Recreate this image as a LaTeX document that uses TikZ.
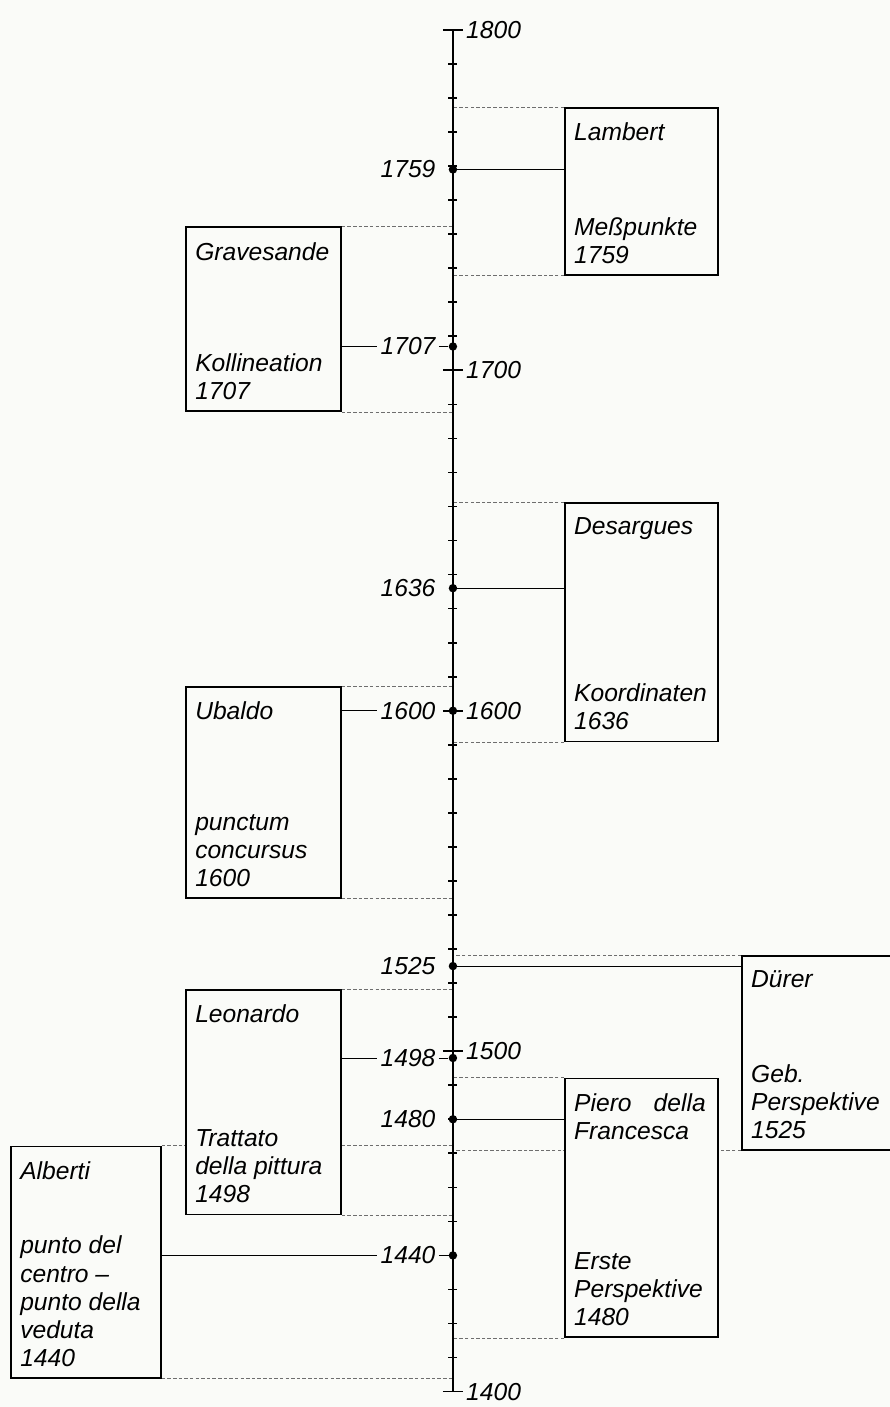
\documentclass[tikz,border=0pt]{standalone}
\usepackage{fontspec}
\setmainfont{Liberation Sans}
\usetikzlibrary{positioning,fit,backgrounds}
\definecolor{paper}{RGB}{250,251,248}
\definecolor{guidegray}{RGB}{110,110,110}

\begin{document}
\begin{tikzpicture}[
  x=0.025cm, y=0.0851cm,
  font=\fontsize{17.5}{20}\selectfont\itshape,
  timeline/.style={line width=2pt},
  tickmark/.style={line width=1.2pt},
  lifebox/.style={draw, line width=1.2pt, fill=paper, inner sep=0pt},
  boxtext/.style={inner sep=0pt, align=left},
  yearlabel/.style={inner sep=0pt, outer sep=2.5pt, anchor=east},
  scalelabel/.style={inner sep=0pt, anchor=west},
  link/.style={line width=0.7pt},
  guide/.style={line width=0.5pt, guidegray, dash pattern=on 2.5pt off 1.5pt},
  event/.style={circle, fill, inner sep=0pt, minimum size=6pt}
]
  % page
  \path[use as bounding box] (0,1395.5) rectangle (890,1808.8);
  \clip (0,1395.5) rectangle (890,1808.8);
  \begin{scope}[on background layer]
    \fill[paper] (0,1395.5) rectangle (890,1808.8);
  \end{scope}

  % time axis
  \coordinate (top) at (453,1800);
  \coordinate (bottom) at (453,1400);
  \draw[timeline] (bottom) -- (top);
  \foreach \yy in {1410,1420,...,1790}
    \draw[tickmark] (448.5,\yy) -- (457.5,\yy);
  \foreach \yy in {1400,1500,...,1800} {
    \draw[tickmark] (443,\yy) -- (463,\yy);
    \node[scalelabel] (s\yy) at (466,\yy) {\yy};
  }

  % life spans (boxes)
  \node[lifebox, fit={(565,1777) (718,1728)}] (lambert) {};
  \node[lifebox, fit={(186,1742) (341,1688)}] (grav) {};
  \node[lifebox, fit={(565,1661) (718,1591)}] (desarg) {};
  \node[lifebox, fit={(186,1607) (341,1545)}] (ubaldo) {};
  \node[lifebox, fit={(742,1528) (905,1471)}] (duerer) {};
  \node[lifebox, fit={(186,1518) (341,1452)}] (leonardo) {};
  \node[lifebox, fit={(565,1492) (718,1416)}] (piero) {};
  \node[lifebox, fit={(11,1472) (161,1404)}] (alberti) {};

  % names and works
  \node[boxtext, below right=11pt and 7pt of lambert.north west] (lambertname) {Lambert};
  \node[boxtext, above right=8.5pt and 7pt of lambert.south west] (lambertwork) {Meßpunkte\\1759};
  \node[boxtext, below right=11pt and 7pt of grav.north west] (gravname) {Gravesande};
  \node[boxtext, above right=8.5pt and 7pt of grav.south west] (gravwork) {Kollineation\\1707};
  \node[boxtext, below right=11pt and 7pt of desarg.north west] (desargname) {Desargues};
  \node[boxtext, above right=8.5pt and 7pt of desarg.south west] (desargwork) {Koordinaten\\1636};
  \node[boxtext, below right=11pt and 7pt of ubaldo.north west] (ubaldoname) {Ubaldo};
  \node[boxtext, above right=8.5pt and 7pt of ubaldo.south west] (ubaldowork) {punctum\\concursus\\1600};
  \node[boxtext, below right=11pt and 7pt of duerer.north west] (duerername) {Dürer};
  \node[boxtext, above right=8.5pt and 7pt of duerer.south west] (duererwork) {Geb.\\Perspektive\\1525};
  \node[boxtext, below right=11pt and 7pt of leonardo.north west] (leonardoname) {Leonardo};
  \node[boxtext, above right=8.5pt and 7pt of leonardo.south west] (leonardowork) {Trattato\\della pittura\\1498};
  \node[boxtext, below right=11pt and 7pt of piero.north west] (pieroname) {Piero\hspace{0.9em}della\\Francesca};
  \node[boxtext, above right=8.5pt and 7pt of piero.south west] (pierowork) {Erste\\Perspektive\\1480};
  \node[boxtext, below right=11pt and 7pt of alberti.north west] (albertiname) {Alberti};
  \node[boxtext, above right=8.5pt and 7pt of alberti.south west] (albertiwork) {punto del\\centro –\\punto della\\veduta\\1440};

  % events on the axis
  \foreach \yy in {1759,1707,1636,1600,1525,1498,1480,1440} {
    \node[event] (d\yy) at (453,\yy) {};
    \node[yearlabel] (l\yy) at (439,\yy) {\yy};
  }

  % links to the right
  \draw[link] (d1759) -- (d1759 -| lambert.west);
  \draw[link] (d1636) -- (d1636 -| desarg.west);
  \draw[link] (d1525) -- (d1525 -| duerer.west);
  \draw[link] (d1480) -- (d1480 -| piero.west);

  % links to the left
  \draw[link] (grav.east |- l1707) -- (l1707.west);
  \draw[link] (l1707.east) -- (d1707);
  \draw[link] (ubaldo.east |- l1600) -- (l1600.west);
  \draw[link] (leonardo.east |- l1498) -- (l1498.west);
  \draw[link] (l1498.east) -- (d1498);
  \draw[link] (alberti.east |- l1440) -- (l1440.west);
  \draw[link] (l1440.east) -- (d1440);

  % dashed guides from the axis to the life spans
  \begin{scope}[on background layer]
    \foreach \b in {lambert,desarg,duerer,piero} {
      \draw[guide] (\b.north west) -- (\b.north west -| top);
      \draw[guide] (\b.south west) -- (\b.south west -| top);
    }
    \foreach \b in {grav,ubaldo,leonardo,alberti} {
      \draw[guide] (\b.north east) -- (\b.north east -| top);
      \draw[guide] (\b.south east) -- (\b.south east -| top);
    }
  \end{scope}
\end{tikzpicture}
\end{document}
